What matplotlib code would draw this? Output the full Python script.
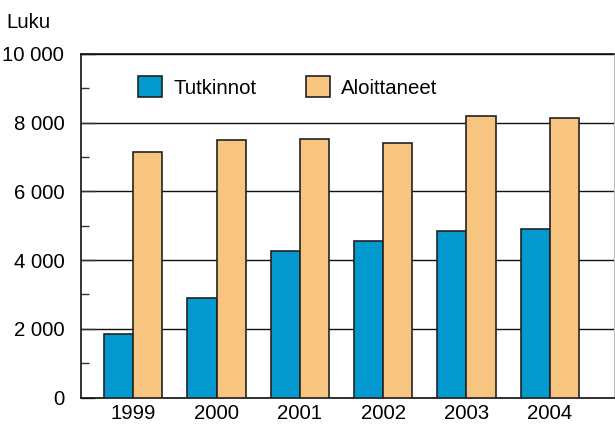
import matplotlib.pyplot as plt
import numpy as np
from matplotlib.ticker import MultipleLocator, FuncFormatter

plt.rcParams['font.family'] = ['Liberation Sans', 'DejaVu Sans']

years = ['1999', '2000', '2001', '2002', '2003', '2004']
tutkinnot = [1850, 2900, 4260, 4570, 4840, 4900]
aloittaneet = [7150, 7500, 7530, 7420, 8200, 8140]

blue = '#0399CF'
orange = '#F8C580'
fs = 14.7

fig = plt.figure(figsize=(6.15, 4.25), dpi=100)
ax = fig.add_axes([0.1317, 0.0647, 0.8663, 0.8083])

x = np.arange(len(years))
w = 0.35
ax.bar(x - w / 2, tutkinnot, w, color=blue, edgecolor='#222222', linewidth=1.2,
       label='Tutkinnot', zorder=3)
ax.bar(x + w / 2, aloittaneet, w, color=orange, edgecolor='#222222', linewidth=1.2,
       label='Aloittaneet', zorder=3)

ax.set_xlim(-0.628, 5.77)
ax.set_ylim(0, 10000)
ax.set_xticks(x)
ax.set_xticklabels(years)
ax.yaxis.set_major_locator(MultipleLocator(2000))
ax.yaxis.set_minor_locator(MultipleLocator(1000))
ax.yaxis.set_major_formatter(FuncFormatter(lambda v, p: f'{int(v):,}'.replace(',', ' ')))
ax.grid(axis='y', color='#111111', linewidth=1.0, zorder=0)

ax.tick_params(axis='x', length=0, pad=5, labelsize=fs)
ax.tick_params(axis='y', which='major', direction='in', length=10, width=1,
               color='#333333', pad=12, labelsize=fs)
ax.tick_params(axis='y', which='minor', direction='in', length=6, width=1,
               color='#333333')

for s in ['left', 'bottom', 'top']:
    ax.spines[s].set_color('#111111')
    ax.spines[s].set_linewidth(1.2)
ax.spines['right'].set_color('#bbbbbb')

fig.text(0.011, 0.948, 'Luku', fontsize=fs, va='center', ha='left')

ax.legend(loc='center left', bbox_to_anchor=(0.107, 0.904), ncol=2, frameon=False,
          fontsize=fs, handlelength=1.18, handleheight=1.18, handletextpad=0.54,
          columnspacing=2.45, borderpad=0, borderaxespad=0)

fig.savefig('out.png', dpi=100)
